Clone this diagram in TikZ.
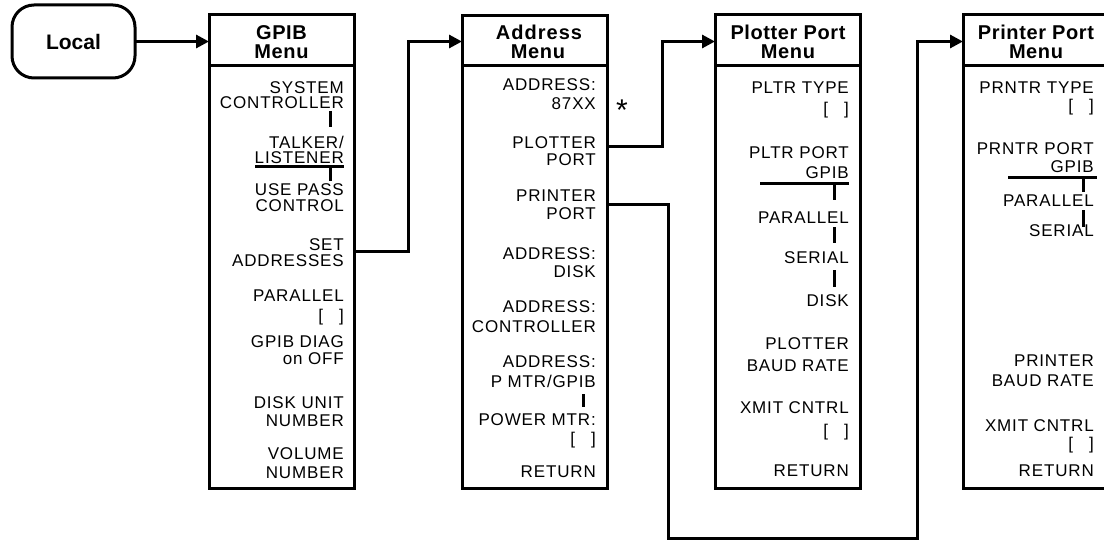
\documentclass[tikz,border=0pt]{standalone}
\usepackage{fontspec}
\newfontfamily\itemfont[LetterSpace=5]{Liberation Sans}
\newfontfamily\headfont[LetterSpace=3]{Liberation Sans}
\newfontfamily\wideheadfont[LetterSpace=5]{Liberation Sans}
\newfontfamily\keyfont{Liberation Sans}
\usetikzlibrary{arrows.meta}
\newcommand{\itm}[4]{\node[itm] (#1) at (#2,#3+6) {#4};}
\newcommand{\brk}{[\hspace{16pt}]}
\begin{document}
\begin{tikzpicture}[x=1pt,y=-1pt,
  menubox/.style={draw, line width=3pt, minimum width=145pt, minimum height=473pt, inner sep=0pt, outer sep=0pt},
  itm/.style={anchor=base east, inner sep=0pt, font=\itemfont\fontsize{17}{19}\selectfont},
  ttl/.style={anchor=base, inner sep=0pt, font=\headfont\bfseries\fontsize{20}{22}\selectfont},
  conn/.style={line width=3pt},
  arr/.style={line width=3pt, -{Triangle[length=13pt,width=13pt]}},
  tickline/.style={line width=3pt},
  barline/.style={line width=3.5pt},
]
\useasboundingbox (0,0) rectangle (1104,543);
\clip (0,0) rectangle (1104,543);

% Local key
\node[draw, line width=3pt, rounded corners=22pt, minimum width=123pt, minimum height=73pt,
      inner sep=0pt, outer sep=0pt, font=\keyfont\bfseries\fontsize{21}{23}\selectfont] (local) at (73.5,41.5) {Local};

% boxes
\node[menubox] (gpib) at (281.5,251.5) {};
\node[menubox] (addr) at (534.5,252) {};
\node[menubox] (plot) at (787.5,251.5) {};
\node[menubox] (prn)  at (1035.5,251.5) {};

\coordinate (hdr) at (0,66);
\coordinate (arrowy) at (0,41.5);
\foreach \b in {gpib,addr,plot,prn}{
  \draw[line width=3pt] (\b.west |- hdr) -- (\b.east |- hdr);
}

% titles
\node[ttl] (t1a) at (281.5,40) {GPIB};
\node[ttl] (t1b) at (281.5,59) {Menu};
\node[ttl, font=\wideheadfont\bfseries\fontsize{20}{22}\selectfont] (t2a) at (539,40) {Address};
\node[ttl] (t2b) at (538,59) {Menu};
\node[ttl] (t3a) at (788,40) {Plotter Port};
\node[ttl] (t3b) at (788,59) {Menu};
\node[ttl] (t4a) at (1036,40) {Printer Port};
\node[ttl] (t4b) at (1036,59) {Menu};

% GPIB menu items
\itm{g1a}{344}{87}{SYSTEM}
\itm{g1b}{344}{103}{CONTROLLER}
\itm{g2a}{344}{142}{TALKER/}
\itm{g2b}{344}{157}{LISTENER}
\itm{g3a}{344}{189}{USE PASS}
\itm{g3b}{344}{205}{CONTROL}
\itm{g4a}{344}{244}{SET}
\itm{g4b}{344}{260}{ADDRESSES}
\itm{g5a}{344}{295}{PARALLEL}
\itm{g5b}{344}{315}{\brk}
\itm{g6a}{344}{341}{GPIB DIAG}
\itm{g6b}{344}{358}{on OFF}
\itm{g7a}{344}{402}{DISK UNIT}
\itm{g7b}{344}{420}{NUMBER}
\itm{g8a}{344}{453}{VOLUME}
\itm{g8b}{344}{472}{NUMBER}
\draw[tickline] (330,111) -- (330,127);
\draw[barline] (255,166.5) -- (344,166.5);
\draw[tickline] (330,167) -- (330,181);

% Address menu items
\itm{a1a}{596}{85}{ADDRESS:}
\itm{a1b}{596}{104}{87XX}
\itm{a2a}{596}{142}{PLOTTER}
\itm{a2b}{596}{159}{PORT}
\itm{a3a}{596}{195}{PRINTER}
\itm{a3b}{596}{213}{PORT}
\itm{a4a}{596}{253}{ADDRESS:}
\itm{a4b}{596}{271}{DISK}
\itm{a5a}{596}{306}{ADDRESS:}
\itm{a5b}{596}{326}{CONTROLLER}
\itm{a6a}{596}{361}{ADDRESS:}
\itm{a6b}{596}{381}{P MTR/GPIB}
\itm{a7a}{596}{419}{POWER MTR:}
\itm{a7b}{596}{438}{\brk}
\itm{a8}{596}{471}{RETURN}
\draw[tickline] (583,394) -- (583,407);
\node[anchor=base, inner sep=0pt, font=\keyfont\fontsize{30}{32}\selectfont] (star) at (622,121) {*};

% Plotter port menu items
\itm{p1a}{849}{87}{PLTR TYPE}
\itm{p1b}{849}{108}{\brk}
\itm{p2a}{849}{152}{PLTR PORT}
\itm{p2b}{849}{172}{GPIB}
\itm{p3}{849}{217}{PARALLEL}
\itm{p4}{849}{257}{SERIAL}
\itm{p5}{849}{300}{DISK}
\itm{p6a}{849}{343}{PLOTTER}
\itm{p6b}{849}{365}{BAUD RATE}
\itm{p7a}{849}{407}{XMIT CNTRL}
\itm{p7b}{849}{430}{\brk}
\itm{p8}{849}{470}{RETURN}
\draw[barline] (760,183.5) -- (849,183.5);
\draw[tickline] (834,184) -- (834,200);
\draw[tickline] (834,227) -- (834,243);
\draw[tickline] (834,270) -- (834,287);

% Printer port menu items
\itm{r1a}{1094}{87}{PRNTR TYPE}
\itm{r1b}{1094}{106}{\brk}
\itm{r2a}{1094}{148}{PRNTR PORT}
\itm{r2b}{1094}{166}{GPIB}
\itm{r3}{1094}{200}{PARALLEL}
\itm{r4}{1094}{230}{SERIAL}
\itm{r6a}{1094}{360}{PRINTER}
\itm{r6b}{1094}{380}{BAUD RATE}
\itm{r7a}{1094}{425}{XMIT CNTRL}
\itm{r7b}{1094}{443}{\brk}
\itm{r8}{1094}{470}{RETURN}
\draw[barline] (1008,177.5) -- (1097,177.5);
\draw[tickline] (1083,178) -- (1083,192);
\draw[tickline] (1083,210) -- (1083,227);

% connectors
\coordinate (c1) at (408,251);
\coordinate (c2) at (662,146);
\coordinate (c3) at (668,204);
\coordinate (c4) at (917,538);
\draw[arr] (local.east) -- (gpib.west |- local.east);
\draw[arr] (gpib.east |- c1) -- (c1) |- (addr.west |- arrowy);
\draw[arr] (addr.east |- c2) -- (c2) |- (plot.west |- arrowy);
\draw[arr] (addr.east |- c3) -- (c3) |- (c4) |- (prn.west |- arrowy);
\end{tikzpicture}
\end{document}
